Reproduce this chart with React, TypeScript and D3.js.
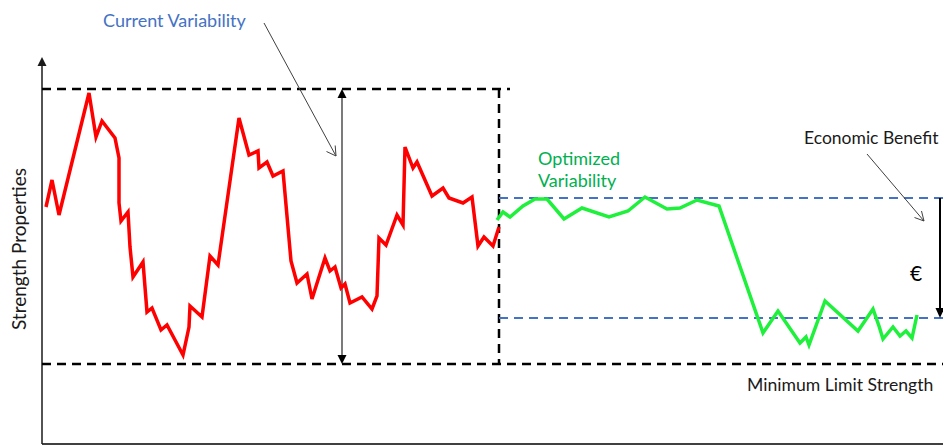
import React from "react";
import * as d3 from "d3";

// Process time (arbitrary units) and strength (arbitrary units)
const currentT = [4, 10, 17, 47, 54, 60, 73, 77, 77, 79, 86, 88, 91, 101, 105, 110, 119, 125, 141, 147, 148, 160, 168, 176, 197, 207, 216, 217, 225, 231, 241, 249, 255, 265, 270, 283, 288, 293, 299, 303, 308, 320, 330, 335, 337, 344, 355, 361, 363, 371, 375, 390, 401, 407, 421, 430, 436, 442, 451, 457];
const currentStrength = [237, 264, 229, 351, 307, 323, 306, 286, 241, 223, 232, 197, 167, 182, 132, 136, 114, 119, 89, 117, 138, 127, 188, 179, 326, 289, 293, 276, 282, 268, 273, 183, 161, 170, 145, 186, 173, 177, 156, 160, 141, 147, 135, 148, 206, 199, 229, 219, 297, 276, 282, 248, 256, 246, 241, 247, 198, 207, 198, 217];

const optimizedT = [455, 461, 468, 481, 493, 505, 522, 540, 567, 586, 603, 625, 638, 655, 677, 721, 736, 758, 764, 767, 783, 816, 831, 837, 841, 851, 858, 864, 870, 875];
const optimizedStrength = [224, 232, 227, 238, 245, 245, 225, 236, 227, 233, 247, 235, 236, 244, 238, 111, 133, 101, 107, 99, 143, 113, 135, 118, 105, 117, 108, 113, 106, 129];

// Reference levels
const currentUpper = 355;
const minimumLimit = 80;
const optimizedUpper = 246;
const optimizedLower = 126;
const changeoverT = 457;
const currentSpanEnd = 468;
const currentArrowT = 300;

const labels = {
  yAxis: "Strength Properties",
  current: "Current Variability",
  optimizedLine1: "Optimized",
  optimizedLine2: "Variability",
  benefit: "Economic Benefit",
  euro: "€",
  minimum: "Minimum Limit Strength",
};

const W = 943;
const H = 447;

export default function App() {
  const x = d3.scaleLinear().domain([0, 900]).range([42, 942]);
  const y = d3.scaleLinear().domain([0, 387]).range([444, 57]);

  const line = d3
    .line<[number, number]>()
    .x((d) => x(d[0]))
    .y((d) => y(d[1]))
    .curve(d3.curveLinear);

  const redPts = currentT.map((t, i) => [t, currentStrength[i]] as [number, number]);
  const greenPts = optimizedT.map((t, i) => [t, optimizedStrength[i]] as [number, number]);

  const font = "Lato, 'Open Sans', sans-serif";
  const xEnd = x.range()[1] + 1;

  const ax = x(currentArrowT);
  const yTop = y(currentUpper);
  const yMin = y(minimumLimit);
  const yOptU = y(optimizedUpper);
  const yOptL = y(optimizedLower);
  const benefitX = 940;

  return (
    <svg
      width={W}
      height={H}
      style={{ position: "absolute", left: 0, top: 0, background: "#fff" }}
      fontFamily={font}
    >
      {/* axes */}
      <line x1={x(0)} y1={y(0)} x2={xEnd} y2={y(0)} stroke="#404040" strokeWidth={2} />
      <line x1={x(0)} y1={y(0)} x2={x(0)} y2={y(380)} stroke="#1a1a1a" strokeWidth={1.5} />
      <path
        d={`M${x(0)},${y(387)} L${x(0) - 4.5},${y(387) + 9} L${x(0) + 4.5},${y(387) + 9} Z`}
        fill="#1a1a1a"
      />
      <text
        transform={`translate(26,${249}) rotate(-90)`}
        textAnchor="middle"
        fontSize={19}
        fill="#1a1a1a"
      >
        {labels.yAxis}
      </text>

      {/* reference levels */}
      <line x1={x(0)} y1={yTop} x2={x(currentSpanEnd)} y2={yTop} stroke="#000" strokeWidth={2.5} strokeDasharray="9,6" />
      <line x1={x(0)} y1={yMin} x2={xEnd} y2={yMin} stroke="#000" strokeWidth={2.5} strokeDasharray="9,6" />
      <line x1={x(changeoverT)} y1={yTop} x2={x(changeoverT)} y2={yMin} stroke="#000" strokeWidth={2.5} strokeDasharray="9,6" />
      <line x1={x(changeoverT)} y1={yOptU} x2={xEnd} y2={yOptU} stroke="#4472C4" strokeWidth={2} strokeDasharray="9,6" />
      <line x1={x(changeoverT)} y1={yOptL} x2={xEnd} y2={yOptL} stroke="#4472C4" strokeWidth={2} strokeDasharray="9,6" />

      {/* current variability span */}
      <line x1={ax} y1={yTop + 8} x2={ax} y2={yMin - 8} stroke="#333" strokeWidth={1.3} />
      <path d={`M${ax},${yTop} L${ax - 4.5},${yTop + 9} L${ax + 4.5},${yTop + 9} Z`} fill="#000" />
      <path d={`M${ax},${yMin} L${ax - 4.5},${yMin - 9} L${ax + 4.5},${yMin - 9} Z`} fill="#000" />

      {/* series */}
      <path d={line(redPts) ?? ""} fill="none" stroke="#FF0000" strokeWidth={3.5} strokeLinejoin="miter" strokeMiterlimit={4} />
      <path d={line(greenPts) ?? ""} fill="none" stroke="#1EF03C" strokeWidth={3.5} strokeLinejoin="miter" strokeMiterlimit={4} />

      {/* annotation: current variability */}
      <text x={103} y={27} fontSize={18} fill="#4472C4">
        {labels.current}
      </text>
      <line x1={264} y1={23} x2={336} y2={156} stroke="#404040" strokeWidth={1} />
      <path d="M326.5,151.5 L336,156 L335.2,145.5" fill="none" stroke="#404040" strokeWidth={1} />

      {/* annotation: optimized variability */}
      <text x={538} y={165} fontSize={18} fill="#00B050">
        {labels.optimizedLine1}
      </text>
      <text x={538} y={187} fontSize={18} fill="#00B050">
        {labels.optimizedLine2}
      </text>

      {/* annotation: economic benefit */}
      <text x={804} y={144} fontSize={17.5} fill="#1a1a1a">
        {labels.benefit}
      </text>
      <line x1={867} y1={154} x2={924} y2={221} stroke="#404040" strokeWidth={1} />
      <path d="M914.5,217.5 L924,221 L921.5,211" fill="none" stroke="#404040" strokeWidth={1} />
      <line x1={benefitX} y1={yOptU} x2={benefitX} y2={yOptL - 8} stroke="#000" strokeWidth={2} />
      <path
        d={`M${benefitX},${yOptL} L${benefitX - 4.5},${yOptL - 10} L${benefitX + 4.5},${yOptL - 10} Z`}
        fill="#000"
      />
      <text x={910} y={281} fontSize={21} fill="#000">
        {labels.euro}
      </text>

      <text x={747} y={391} fontSize={17.6} fill="#1a1a1a">
        {labels.minimum}
      </text>
    </svg>
  );
}
